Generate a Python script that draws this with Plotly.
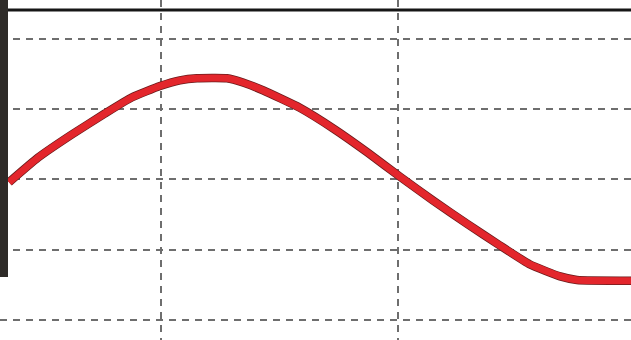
import plotly.graph_objects as go

# Curve samples (x in grid units, y in grid units)
x_vals = [0.359, 0.481, 0.624, 0.764, 0.878, 0.996, 1.080, 1.152, 1.278, 1.346,
          1.430, 1.586, 1.734, 1.873, 2.008, 2.148, 2.291, 2.430, 2.557, 2.684,
          2.755, 2.983]
y_vals = [-0.04, 0.31, 0.64, 0.94, 1.17, 1.33, 1.41, 1.44, 1.44, 1.38,
          1.27, 1.02, 0.71, 0.38, 0.04, -0.30, -0.63, -0.94, -1.21, -1.38,
          -1.43, -1.44]

x_range = [0.321, 2.983]
y_range = [-2.285, 2.555]
top_line_y = 2.413

fig = go.Figure()
fig.add_trace(go.Scatter(x=x_vals, y=y_vals, mode="lines",
                         line=dict(color="#6a1c1c", width=8.5, shape="spline", smoothing=0.45),
                         hoverinfo="skip", showlegend=False))
fig.add_trace(go.Scatter(x=x_vals, y=y_vals, mode="lines",
                         line=dict(color="#e3262c", width=7, shape="spline", smoothing=0.45),
                         showlegend=False))

fig.add_shape(type="line", xref="paper", x0=8/631, x1=1, yref="y", y0=top_line_y, y1=top_line_y,
              line=dict(color="#161616", width=3), layer="above")
fig.add_shape(type="rect", xref="paper", yref="paper", x0=0, x1=8/631, y0=1-277/340, y1=1,
              fillcolor="#2e2b28", line=dict(width=0), layer="above")

axis_common = dict(showticklabels=False, ticks="", zeroline=False, showline=False,
                   showgrid=True, gridcolor="#6e6e6e", gridwidth=2, griddash="7px,6px",
                   tick0=0, dtick=1, fixedrange=True)
fig.update_xaxes(range=x_range, **axis_common)
fig.update_yaxes(range=y_range, **axis_common)
fig.update_layout(width=631, height=340, margin=dict(l=0, r=0, t=0, b=0),
                  paper_bgcolor="white", plot_bgcolor="white")

fig.write_html("out.html", post_script="document.body.style.margin='0';document.body.style.overflow='hidden';",
               config={"displayModeBar": False})
